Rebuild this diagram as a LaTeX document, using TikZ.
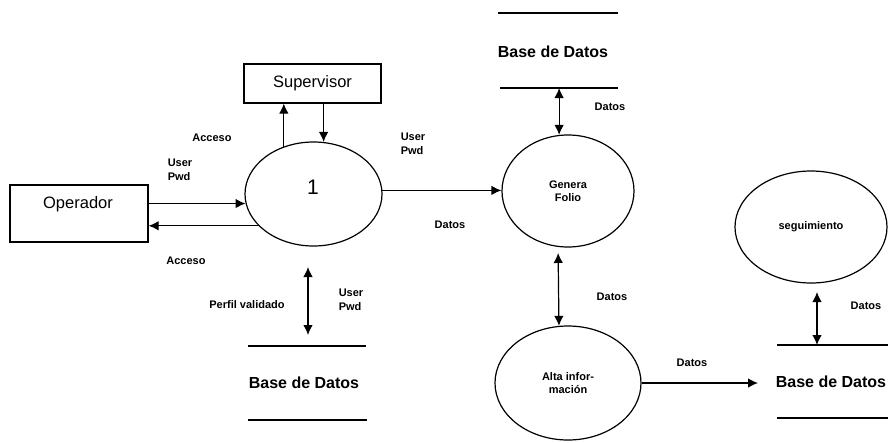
\documentclass[tikz,border=0pt]{standalone}
\usepackage{fontspec}
\setmainfont{Liberation Sans}
\usetikzlibrary{shapes.geometric,arrows.meta}
\tikzset{
  box/.style={draw, line width=1.2pt, inner sep=0pt},
  proc/.style={ellipse, draw, line width=1.2pt, inner sep=0pt},
  lbl/.style={font=\fontsize{11}{14}\selectfont\bfseries, align=left, inner sep=0pt},
  ptxt/.style={font=\fontsize{11}{13}\selectfont\bfseries, align=center, inner sep=0pt},
  big/.style={font=\fontsize{16.5}{19}\selectfont, inner sep=0pt},
  dbtext/.style={font=\fontsize{16}{19}\selectfont\bfseries, inner sep=0pt},
  arr/.style={-{Latex[length=10pt,width=9.5pt]}, line width=1.2pt},
  darr/.style={{Latex[length=10pt,width=9.5pt]}-{Latex[length=10pt,width=9.5pt]}, line width=1.2pt},
  storeline/.style={line width=1.2pt}
}
\begin{document}
\begin{tikzpicture}[x=1pt,y=-1pt]
\useasboundingbox (0,0) rectangle (888,442);

% external entities
\node[box, minimum width=138pt, minimum height=57pt] (op) at (79,213.5) {};
\node[big] (optext) at (78,204) {Operador};
\node[box, minimum width=137pt, minimum height=39pt, big] (sup) at (312.5,83.5) {Supervisor};

% processes
\node[proc, minimum width=137pt, minimum height=104pt] (e1) at (313.5,194) {};
\node[font=\fontsize{21}{24}\selectfont, inner sep=0pt] (one) at (313,187) {1};
\node[proc, minimum width=132pt, minimum height=112pt, ptxt] (gf) at (568,191) {Genera\\Folio};
\node[proc, minimum width=146pt, minimum height=114pt, ptxt] (alta) at (568,383) {Alta infor-\\mación};
\node[proc, minimum width=152pt, minimum height=112pt, ptxt] (seg) at (811,227) {seguimiento};

% data stores
\coordinate (sAt1) at (498,13);  \coordinate (sAt2) at (618,13);
\coordinate (sAb1) at (500,88);  \coordinate (sAb2) at (618,88);
\draw[storeline] (sAt1) -- (sAt2);
\draw[storeline] (sAb1) -- (sAb2);
\node[dbtext] (dbA) at (553,52) {Base de Datos};

\coordinate (sBt1) at (248,346); \coordinate (sBt2) at (366,346);
\coordinate (sBb1) at (248,420); \coordinate (sBb2) at (367,420);
\draw[storeline] (sBt1) -- (sBt2);
\draw[storeline] (sBb1) -- (sBb2);
\node[dbtext] (dbB) at (304,383) {Base de Datos};

\coordinate (sCt1) at (777,345); \coordinate (sCt2) at (888,345);
\coordinate (sCb1) at (777,418); \coordinate (sCb2) at (888,418);
\draw[storeline] (sCt1) -- (sCt2);
\draw[storeline] (sCb1) -- (sCb2);
\node[dbtext] (dbC) at (831,382) {Base de Datos};

% connectors
\draw[arr] (op.east |- e1.188.5) -- (e1.188.5);
\draw[arr] (e1.210.6) -- (op.east |- e1.210.6);
\draw[arr] (e1.122.2) -- (e1.122.2 |- sup.south);
\draw[arr] (e1.79.5 |- sup.south) -- (e1.79.5);
\draw[arr] (e1.3.35) -- (e1.3.35 -| gf.west);

\coordinate (dB1) at (308,267);
\draw[darr] (dB1) -- (dB1 |- 0,335);

\draw[darr] (gf.99.2 |- sAb1) -- (gf.99.2);
\draw[darr] ([yshift=-6pt]gf.260.8) -- (alta.99.04);

\coordinate (cEnd) at (758,383);
\draw[arr] (alta.east) -- (cEnd);

\coordinate (segA) at (817,292);
\draw[darr] (segA) -- (segA |- sCt1);

% labels
\node[lbl] (l1) at (212,138) {Acceso};
\node[lbl] (l2) at (180,170) {User\\Pwd};
\node[lbl] (l3) at (186,261) {Acceso};
\node[lbl] (l4) at (247,305) {Perfil validado};
\node[lbl] (l5) at (351,300) {User\\Pwd};
\node[lbl] (l6) at (413,144) {User\\Pwd};
\node[lbl] (l7) at (450,225) {Datos};
\node[lbl] (l8) at (610,107) {Datos};
\node[lbl] (l9) at (612,297) {Datos};
\node[lbl] (l10) at (692,363) {Datos};
\node[lbl] (l11) at (866,306) {Datos};
\end{tikzpicture}
\end{document}
